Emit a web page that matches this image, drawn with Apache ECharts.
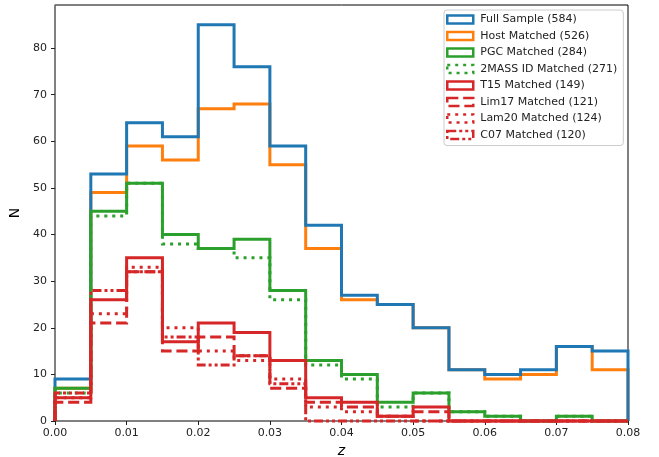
<!DOCTYPE html>
<html>
<head>
<meta charset="utf-8">
<script src="https://cdn.jsdelivr.net/npm/echarts@6/dist/echarts.min.js"></script>
<style>
html,body{margin:0;padding:0;background:#fff;}
#chart{width:659px;height:457px;}
</style>
</head>
<body>
<div id="chart"></div>
<script>
// Bin left edges (bin width 0.005), last edge 0.08
const binEdges = [0.000,0.005,0.010,0.015,0.020,0.025,0.030,0.035,0.040,0.045,0.050,0.055,0.060,0.065,0.070,0.075];
const lastEdge = 0.080;

const fullSample = [9,53,64,61,85,76,59,42,27,25,20,11,10,11,16,15];
const hostMatched = [7,49,59,56,67,68,55,37,26,25,20,11,9,10,16,11];
const pgcMatched = [7,45,51,40,37,39,28,13,10,4,6,2,1,0,1,0];
const twoMassMatched = [6,44,51,38,37,35,26,12,9,3,6,2,1,0,1,0];
const t15Matched = [5,26,35,17,21,19,13,5,4,1,3,0,0,0,0,0];
const lim17Matched = [4,21,32,15,18,14,7,4,3,1,2,0,0,0,0,0];
const lam20Matched = [5,23,33,20,15,13,9,3,2,1,0,0,0,0,0,0];
const c07Matched = [6,28,32,18,12,14,8,0,0,0,0,0,0,0,0,0];

const xTicks = [0.00,0.01,0.02,0.03,0.04,0.05,0.06,0.07,0.08];
const yTicks = [0,10,20,30,40,50,60,70,80];

const LW = 3;
const styles = {
  solid: 'solid',
  dashed: [3.7*LW, 1.6*LW],
  dotted: [1*LW, 1.65*LW],
  dashdotdot: [3*LW, 1*LW, 1*LW, 1*LW, 1*LW, 1*LW]
};

const seriesDefs = [
  {name:'Full Sample (584)', data:fullSample, color:'#1f77b4', type:styles.solid, order:1},
  {name:'Host Matched (526)', data:hostMatched, color:'#ff7f0e', type:styles.solid, order:0},
  {name:'PGC Matched (284)', data:pgcMatched, color:'#2ca02c', type:styles.solid, order:2},
  {name:'2MASS ID Matched (271)', data:twoMassMatched, color:'#2ca02c', type:styles.dotted, order:3},
  {name:'T15 Matched (149)', data:t15Matched, color:'#d62728', type:styles.solid, order:4},
  {name:'Lim17 Matched (121)', data:lim17Matched, color:'#d62728', type:styles.dashed, order:5},
  {name:'Lam20 Matched (124)', data:lam20Matched, color:'#d62728', type:styles.dotted, order:6},
  {name:'C07 Matched (120)', data:c07Matched, color:'#d62728', type:styles.dashdotdot, order:7}
];

function stepPoints(vals){
  const pts = [[binEdges[0], 0]];
  for (let i = 0; i < vals.length; i++) pts.push([binEdges[i], vals[i]]);
  pts.push([lastEdge, vals[vals.length-1]]);
  pts.push([lastEdge, 0]);
  return pts;
}

const drawOrder = seriesDefs.slice().sort((a,b)=>a.order-b.order);
const series = drawOrder.map(d => ({
  name: d.name,
  type: 'line',
  step: 'end',
  data: stepPoints(d.data),
  symbol: 'none',
  clip: false,
  silent: true,
  animation: false,
  itemStyle: {color: d.color},
  lineStyle: {color: d.color, width: LW, type: d.type, cap: 'butt', join: 'miter'},
  emphasis: {disabled: true}
}));

const chart = echarts.init(document.getElementById('chart'), null, {renderer:'canvas'});
chart.setOption({
  animation: false,
  backgroundColor: '#fff',
  grid: {left:55, right:31, top:5, bottom:36, show:true, borderColor:'#000', borderWidth:1,
    backgroundColor:'transparent', containLabel:false, outerBoundsMode:'none'},
  xAxis: {
    type:'value', min:0, max:0.08, interval:0.01,
    name:'z', nameLocation:'middle', nameGap:17,
    nameTextStyle:{fontFamily:'DejaVu Sans', fontSize:14, fontStyle:'italic', color:'#000'},
    axisLine:{show:true, onZero:false, lineStyle:{color:'#808080', width:1.5}},
    axisTick:{show:true, inside:false, length:4, lineStyle:{color:'#222', width:1}, customValues: xTicks},
    axisLabel:{margin:7, fontFamily:'DejaVu Sans', fontSize:11, color:'#222', customValues: xTicks,
      formatter: v => Number(v).toFixed(2)},
    splitLine:{show:false}
  },
  yAxis: {
    type:'value', min:0, max:89.25, interval:10,
    name:'N', nameLocation:'middle', nameGap:28,
    nameTextStyle:{fontFamily:'DejaVu Sans', fontSize:14, color:'#000'},
    axisLine:{show:true, onZero:false, lineStyle:{color:'#808080', width:1.5}},
    axisTick:{show:true, inside:false, length:4, lineStyle:{color:'#222', width:1}, customValues: yTicks},
    axisLabel:{margin:8, fontFamily:'DejaVu Sans', fontSize:11, color:'#222', customValues: yTicks,
      formatter: v => String(Math.round(v))},
    splitLine:{show:false}
  },
  legend: {
    orient:'vertical', left:444, top:10,
    padding:[3,6,4,2],
    itemWidth:26, itemHeight:8, itemGap:3.5,
    backgroundColor:'#fff', borderColor:'#cccccc', borderWidth:1, borderRadius:3,
    selectedMode:false,
    textStyle:{fontFamily:'DejaVu Sans', fontSize:11, color:'#222', lineHeight:13, padding:[0,0,0,2]},
    data: seriesDefs.map(d => ({
      name: d.name,
      icon: 'rect',
      itemStyle: {color:'#fff', borderColor:d.color, borderWidth:2.5, borderType:d.type},
      lineStyle: {color:d.color, width:2.5, type:d.type}
    }))
  },
  series: series
});
</script>
</body>
</html>
